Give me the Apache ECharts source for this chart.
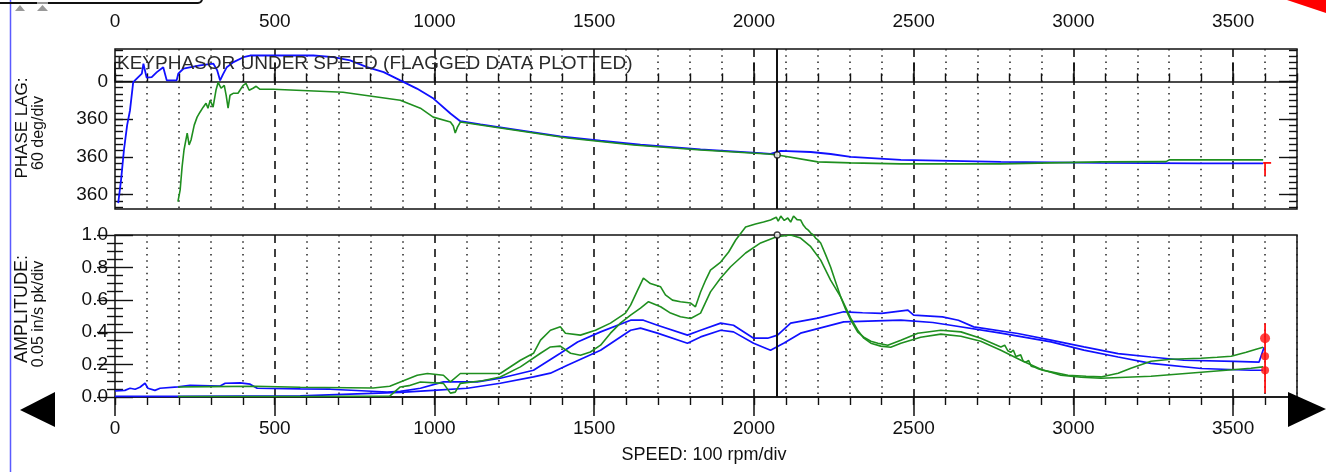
<!DOCTYPE html>
<html><head><meta charset="utf-8">
<script src="https://cdn.jsdelivr.net/npm/echarts@6/dist/echarts.min.js"></script>
<style>html,body{margin:0;padding:0;background:#fff;}#c{width:1326px;height:472px;}</style>
</head><body><div id="c"></div>
<script>
// ---------- axis ticks / labels ----------
const speedMin = 0, speedMax = 3700;
const speedMajorTicks = [0, 500, 1000, 1500, 2000, 2500, 3000, 3500];
const speedTickLabels = ['0', '500', '1000', '1500', '2000', '2500', '3000', '3500'];
const phaseMin = -308, phaseMax = 1216;
const phaseTickValues = [0, 360, 720, 1080];
const phaseTickLabels = ['0', '360', '360', '360'];
const phaseMinorTicks = [-300,-240,-180,-120,-60,0,60,120,180,240,300,360,420,480,540,600,660,720,780,840,900,960,1020,1080,1140,1200];
const ampMin = 0, ampMax = 1.0;
const titleText = 'KEYPHASOR UNDER SPEED (FLAGGED DATA PLOTTED)';
const xName = 'SPEED: 100 rpm/div';
const phaseName = ['PHASE LAG:', '60 deg/div'];
const ampName = ['AMPLITUDE:', '0.05 in/s pk/div'];
const cursorRpm = 2073;
const cursorPhase = 701;
const cursorAmp = 1.0;

// ---------- phase data [rpm, deg] ----------
const bluePhase = [[10,1159],[19,938],[28,654],[38,417],[47,275],[57,7],[68,-26],[84,-73],[89,-168],[99,-35],[115,-41],[131,-88],[151,-135],[157,-120],[162,-9],[193,-9],[198,-73],[214,-120],[266,-152],[308,-168],[320,-104],[329,-9],[338,-66],[350,-135],[371,-183],[402,-230],[423,-246],[621,-246],[684,-230],[736,-199],[789,-135],[841,-88],[893,-9],[945,69],[997,164],[1050,306],[1081,380],[1144,410],[1269,468],[1394,525],[1520,566],[1645,604],[1833,648],[2021,684],[2052,690],[2084,663],[2178,673],[2240,692],[2303,720],[2460,748],[2773,767],[3086,777],[3400,782],[3594,782]];
const greenPhase = [[197,1146],[204,1033],[210,815],[216,654],[226,493],[232,606],[238,559],[248,417],[257,341],[266,294],[276,246],[285,208],[291,256],[298,180],[307,246],[316,85],[323,9],[332,66],[342,38],[348,133],[354,256],[360,133],[370,114],[385,114],[401,38],[410,19],[420,85],[432,66],[442,47],[454,76],[495,76],[714,104],[893,180],[956,256],[996,341],[1050,388],[1059,426],[1065,493],[1072,436],[1081,388],[1206,445],[1416,540],[1623,606],[1833,654],[2043,692],[2074,701],[2200,767],[2303,777],[2460,786],[2773,786],[3086,767],[3290,765],[3300,748],[3594,748]];
const phaseFlag = {rpm: 3600, from: 777, to: 900, barFrom: 3594, barTo: 3619};

// ---------- amplitude data [rpm, in/s pk] ----------
const blueAmpA = [[0,0.037],[31,0.041],[47,0.054],[63,0.048],[78,0.06],[94,0.085],[103,0.054],[125,0.041],[141,0.054],[197,0.062],[235,0.072],[329,0.068],[345,0.085],[392,0.087],[423,0.079],[445,0.054],[580,0.05],[674,0.048],[852,0.031],[893,0.035],[956,0.054],[1028,0.093],[1134,0.093],[1206,0.116],[1310,0.165],[1394,0.270],[1448,0.340],[1520,0.402],[1614,0.474],[1654,0.474],[1698,0.443],[1792,0.382],[1833,0.412],[1896,0.456],[1936,0.443],[1999,0.363],[2043,0.363],[2074,0.382],[2115,0.456],[2200,0.487],[2281,0.526],[2340,0.52],[2400,0.516],[2482,0.536],[2500,0.505],[2590,0.495],[2640,0.474],[2688,0.433],[2826,0.392],[2930,0.351],[3033,0.309],[3140,0.268],[3243,0.247],[3346,0.227],[3503,0.22],[3581,0.215],[3597,0.307]];
const blueAmpB = [[0,0.004],[197,0.004],[580,0.007],[893,0.029],[996,0.041],[1103,0.054],[1206,0.085],[1310,0.124],[1363,0.147],[1416,0.196],[1520,0.289],[1614,0.412],[1645,0.425],[1698,0.394],[1792,0.332],[1833,0.371],[1896,0.412],[1936,0.402],[1999,0.332],[2052,0.289],[2093,0.332],[2146,0.394],[2281,0.464],[2460,0.474],[2560,0.46],[2616,0.443],[2773,0.394],[2930,0.340],[3033,0.289],[3140,0.247],[3243,0.208],[3400,0.176],[3556,0.165],[3594,0.165]];
const greenAmpA = [[197,0.062],[300,0.064],[439,0.066],[580,0.06],[808,0.056],[860,0.066],[893,0.093],[946,0.134],[978,0.145],[1028,0.134],[1050,0.093],[1081,0.145],[1122,0.145],[1206,0.145],[1269,0.227],[1310,0.270],[1332,0.351],[1363,0.412],[1394,0.433],[1410,0.394],[1457,0.382],[1504,0.412],[1551,0.456],[1598,0.518],[1614,0.567],[1636,0.66],[1654,0.734],[1676,0.70],[1708,0.68],[1723,0.63],[1745,0.598],[1770,0.588],[1802,0.58],[1817,0.557],[1833,0.648],[1849,0.722],[1864,0.783],[1896,0.833],[1921,0.895],[1943,0.969],[1974,1.049],[2005,1.068],[2030,1.08],[2052,1.093],[2070,1.11],[2076,1.085],[2084,1.117],[2095,1.09],[2106,1.105],[2115,1.08],[2124,1.117],[2135,1.095],[2146,1.093],[2155,1.06],[2162,1.043],[2170,1.03],[2178,1.012],[2186,1.0],[2193,0.981],[2200,0.97],[2209,0.951],[2225,0.876],[2240,0.802],[2256,0.709],[2272,0.616],[2287,0.542],[2303,0.474],[2325,0.40],[2344,0.369],[2366,0.344],[2388,0.332],[2419,0.320],[2460,0.351],[2513,0.394],[2585,0.412],[2648,0.402],[2710,0.363],[2773,0.309],[2785,0.32],[2795,0.285],[2804,0.276],[2812,0.29],[2820,0.25],[2826,0.247],[2835,0.26],[2843,0.22],[2851,0.215],[2860,0.225],[2868,0.19],[2876,0.186],[2890,0.175],[2904,0.165],[2930,0.155],[2983,0.134],[3040,0.128],[3086,0.124],[3140,0.147],[3180,0.177],[3243,0.221],[3306,0.233],[3400,0.239],[3450,0.245],[3494,0.252],[3541,0.276],[3572,0.295],[3594,0.307]];
const greenAmpB = [[197,0.003],[600,0.003],[860,0.006],[893,0.062],[920,0.07],[956,0.093],[1028,0.084],[1050,0.024],[1065,0.03],[1081,0.084],[1150,0.1],[1206,0.124],[1269,0.186],[1332,0.270],[1363,0.309],[1394,0.314],[1426,0.270],[1457,0.258],[1488,0.278],[1520,0.320],[1551,0.394],[1582,0.456],[1614,0.505],[1645,0.549],[1670,0.588],[1708,0.557],[1739,0.518],[1770,0.495],[1802,0.485],[1833,0.518],[1864,0.649],[1896,0.734],[1927,0.804],[1974,0.889],[2021,0.951],[2071,0.989],[2115,1.0],[2146,0.981],[2178,0.928],[2209,0.845],[2240,0.722],[2272,0.616],[2303,0.487],[2325,0.412],[2344,0.363],[2366,0.332],[2397,0.314],[2428,0.307],[2460,0.332],[2522,0.369],[2585,0.388],[2648,0.375],[2710,0.344],[2773,0.289],[2836,0.227],[2898,0.171],[2961,0.134],[3024,0.122],[3086,0.116],[3243,0.128],[3400,0.153],[3556,0.177],[3594,0.186]];
const ampFlag = {rpm: 3600, from: 0.455, to: 0.023};
const ampFlagDots = [0.363, 0.252, 0.165];
const ampFlagDotSizes = [10, 8, 8];

// ---------- styles ----------
const FONT = 'Liberation Sans, Arial, sans-serif';
const TXT = '#111';
const BLUE = '#1010ff';
const GREEN = '#1f8f1f';
const RED = '#ff1010';

const chart = echarts.init(document.getElementById('c'), null, {renderer: 'canvas'});

function speedLabel(v) {
  const i = speedMajorTicks.indexOf(v);
  return i >= 0 ? speedTickLabels[i] : '';
}
function majorX(grid, pos, margin) {
  return {
    type: 'value', gridIndex: grid, position: pos, min: speedMin, max: speedMax, interval: 500,
    axisLine: {show: true, lineStyle: {color: '#111', width: 1.5}},
    axisTick: {show: true, length: 19, customValues: speedMajorTicks, lineStyle: {color: '#111', width: 1.5}},
    axisLabel: {show: true, customValues: speedMajorTicks, margin: margin, color: TXT, fontSize: 19, fontFamily: FONT, formatter: speedLabel},
    splitLine: {show: true, showMinLine: false, lineStyle: {color: '#111', width: 1.6, type: [8, 6]}}
  };
}
function minorX(grid, pos) {
  return {
    type: 'value', gridIndex: grid, position: pos, min: speedMin, max: speedMax, interval: 100,
    axisLine: {show: false},
    axisTick: {show: true, length: 8, lineStyle: {color: '#111', width: 1.4}},
    axisLabel: {show: false},
    splitLine: {show: true, lineStyle: {color: ['rgba(0,0,0,0)', '#222', '#222', '#222', '#222'], width: 1.5, type: [1.5, 4.8]}}
  };
}
function phaseY(pos, major, labels) {
  return {
    type: 'value', gridIndex: 0, position: pos, inverse: true, min: phaseMin, max: phaseMax,
    axisLine: {show: false},
    axisTick: {show: true, inside: true, length: major ? 18 : 8, customValues: major ? phaseTickValues : phaseMinorTicks, lineStyle: {color: '#111', width: 1.4}},
    axisLabel: labels ? {show: true, customValues: phaseTickValues, margin: 7, color: TXT, fontSize: 19, fontFamily: FONT,
      formatter: function (v) { const i = phaseTickValues.indexOf(v); return i >= 0 ? phaseTickLabels[i] : ''; }} : {show: false},
    splitLine: {show: false}
  };
}
function ampY(pos, labels) {
  return {
    type: 'value', gridIndex: 1, position: pos, min: ampMin, max: ampMax, interval: 0.2,
    axisLine: {show: false},
    axisTick: {show: true, inside: true, length: 18, lineStyle: {color: '#111', width: 1.4}},
    minorTick: {show: true, splitNumber: 4, length: 8, lineStyle: {color: '#111', width: 1.4}},
    axisLabel: labels ? {show: true, margin: 7, color: TXT, fontSize: 19, fontFamily: FONT, formatter: v => v.toFixed(1)} : {show: false},
    splitLine: {show: false}, minorSplitLine: {show: false}
  };
}
function line(data, xi, yi, color, width, extra) {
  return Object.assign({type: 'line', data: data, xAxisIndex: xi, yAxisIndex: yi, showSymbol: false, symbol: 'none',
    lineStyle: {color: color, width: width}, itemStyle: {color: color}, silent: true, animation: false}, extra || {});
}
const cursorMark = {silent: true, symbol: ['none', 'none'], label: {show: false},
  lineStyle: {color: '#111', width: 2, type: 'solid'}, data: [{xAxis: cursorRpm}], animation: false};

const option = {
  animation: false,
  grid: [
    {left: 115, right: 29, top: 49, height: 160, show: true, borderColor: '#111', borderWidth: 1.5, backgroundColor: 'transparent'},
    {left: 115, right: 29, top: 235, height: 162, show: true, borderColor: '#111', borderWidth: 1.5, backgroundColor: 'transparent'}
  ],
  xAxis: [majorX(0, 'top', 18), minorX(0, 'top'), majorX(1, 'bottom', 22), minorX(1, 'bottom')],
  yAxis: [phaseY('left', true, true), phaseY('left', false, false), phaseY('right', true, false), phaseY('right', false, false), ampY('left', true), ampY('right', false)],
  series: [
    line(bluePhase, 0, 0, BLUE, 1.8),
    line(greenPhase, 0, 0, GREEN, 1.6, {markLine: cursorMark}),
    {type: 'scatter', xAxisIndex: 0, yAxisIndex: 0, data: [[cursorRpm, cursorPhase]], symbol: 'circle', symbolSize: 6,
      itemStyle: {color: '#fff', borderColor: '#111', borderWidth: 1.3}, silent: true, z: 5},
    line([[phaseFlag.rpm, phaseFlag.from], [phaseFlag.rpm, phaseFlag.to]], 0, 0, RED, 1.8),
    line([[phaseFlag.barFrom, phaseFlag.from], [phaseFlag.barTo, phaseFlag.from]], 0, 0, RED, 1.8),
    line(blueAmpB, 2, 4, BLUE, 1.7),
    line(blueAmpA, 2, 4, BLUE, 1.7),
    line(greenAmpB, 2, 4, GREEN, 1.6),
    line(greenAmpA, 2, 4, GREEN, 1.6, {clip: false, markLine: cursorMark}),
    {type: 'scatter', xAxisIndex: 2, yAxisIndex: 4, data: [[cursorRpm, cursorAmp]], symbol: 'circle', symbolSize: 6,
      itemStyle: {color: '#fff', borderColor: '#111', borderWidth: 1.3}, silent: true, z: 5},
    line([[ampFlag.rpm, ampFlag.from], [ampFlag.rpm, ampFlag.to]], 2, 4, RED, 1.8),
    {type: 'scatter', xAxisIndex: 2, yAxisIndex: 4, silent: true, z: 6,
      data: ampFlagDots.map((v, i) => ({value: [ampFlag.rpm, v], symbolSize: ampFlagDotSizes[i]})),
      symbol: 'circle', itemStyle: {color: RED}}
  ],
  graphic: [
    {type: 'text', z: 100, x: 117, y: 64, style: {text: titleText, font: '19px ' + FONT, fill: '#2a2a2a', align: 'left', verticalAlign: 'middle'}},
    {type: 'text', z: 100, x: 22, y: 128, rotation: Math.PI / 2, style: {text: phaseName[0], font: '17px ' + FONT, fill: TXT, align: 'center', verticalAlign: 'middle'}},
    {type: 'text', z: 100, x: 39, y: 133, rotation: Math.PI / 2, style: {text: phaseName[1], font: '16px ' + FONT, fill: TXT, align: 'center', verticalAlign: 'middle'}},
    {type: 'text', z: 100, x: 22, y: 309, rotation: Math.PI / 2, style: {text: ampName[0], font: '18px ' + FONT, fill: TXT, align: 'center', verticalAlign: 'middle'}},
    {type: 'text', z: 100, x: 39, y: 314, rotation: Math.PI / 2, style: {text: ampName[1], font: '16px ' + FONT, fill: TXT, align: 'center', verticalAlign: 'middle'}},
    {type: 'text', z: 100, x: 704, y: 455, style: {text: xName, font: '18px ' + FONT, fill: TXT, align: 'center', verticalAlign: 'middle'}},
    {type: 'line', z: 100, shape: {x1: 10.5, y1: 0, x2: 10.5, y2: 472}, style: {stroke: '#5a5aff', lineWidth: 1.5}},
    {type: 'rect', z: 100, shape: {x: -10, y: -20, width: 212, height: 23, r: 4}, style: {fill: 'none', stroke: '#111', lineWidth: 2}},
    {type: 'polygon', z: 100, shape: {points: [[15, 11], [20, 5], [25, 11]]}, style: {fill: '#999'}},
    {type: 'polygon', z: 100, shape: {points: [[37, 11], [42.5, 5], [48, 11]]}, style: {fill: '#999'}},
    {type: 'rect', z: 100, shape: {x: 37, y: 2, width: 11, height: 2}, style: {fill: '#999'}},
    {type: 'polygon', z: 100, shape: {points: [[1287, 0], [1326, 0], [1326, 13]]}, style: {fill: '#ff0000'}},
    {type: 'polygon', z: 100, shape: {points: [[20, 410], [55, 392], [55, 427]]}, style: {fill: '#000'}},
    {type: 'polygon', z: 100, shape: {points: [[1288, 392], [1326, 409], [1288, 427]]}, style: {fill: '#000'}}
  ]
};
chart.setOption(option);
</script></body></html>
